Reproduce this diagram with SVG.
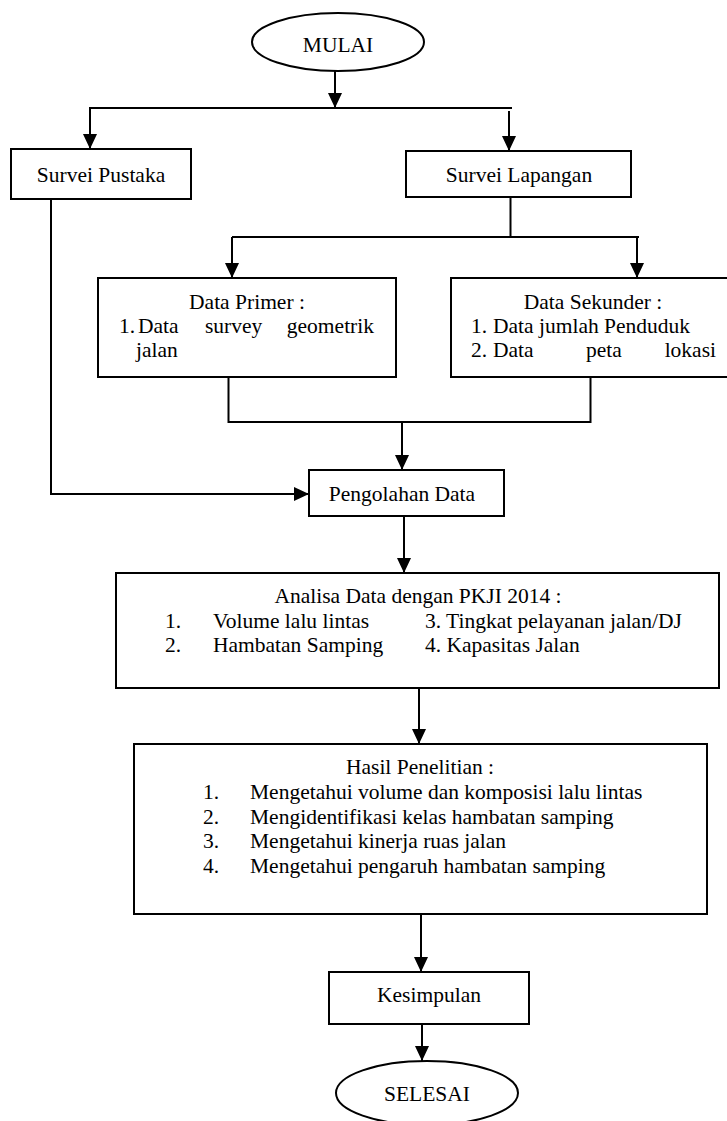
<svg xmlns="http://www.w3.org/2000/svg" width="727" height="1121" viewBox="0 0 727 1121">
<style>
.box{fill:#fff;stroke:#000;stroke-width:2}
.ln{fill:none;stroke:#000;stroke-width:2}
text{font-family:"Liberation Serif","Times New Roman",serif;font-size:21.5px;fill:#000}
.c{text-anchor:middle}
.e{text-anchor:end}
</style>
<defs>
<marker id="ah" markerUnits="userSpaceOnUse" markerWidth="16" markerHeight="16" viewBox="0 0 16 14" refX="15" refY="7" orient="auto">
<path d="M0,0 L15,7 L0,14 Z" fill="#000"/>
</marker>
</defs>
<rect width="727" height="1121" fill="#fff"/>
<g id="connectors">
<line class="ln" x1="335" y1="71" x2="335" y2="108" marker-end="url(#ah)"/>
<line class="ln" x1="89" y1="108" x2="512" y2="108"/>
<line class="ln" x1="90" y1="108" x2="90" y2="149" marker-end="url(#ah)"/>
<line class="ln" x1="509" y1="111" x2="509" y2="151" marker-end="url(#ah)"/>
<line class="ln" x1="510.5" y1="197" x2="510.5" y2="237"/>
<line class="ln" x1="232" y1="237" x2="639" y2="237"/>
<line class="ln" x1="232" y1="237" x2="232" y2="278" marker-end="url(#ah)"/>
<line class="ln" x1="637" y1="237" x2="637" y2="278" marker-end="url(#ah)"/>
<polyline class="ln" points="228.5,377 228.5,422 590.5,422 590.5,377"/>
<line class="ln" x1="402" y1="422" x2="402" y2="470" marker-end="url(#ah)"/>
<polyline class="ln" points="51,199 51,494 309,494" marker-end="url(#ah)"/>
<line class="ln" x1="404" y1="516" x2="404" y2="573" marker-end="url(#ah)"/>
<line class="ln" x1="419" y1="688" x2="419" y2="744" marker-end="url(#ah)"/>
<line class="ln" x1="421" y1="914" x2="421" y2="972" marker-end="url(#ah)"/>
<line class="ln" x1="422" y1="1024" x2="422" y2="1061" marker-end="url(#ah)"/>
</g>
<g id="mulai">
<ellipse class="box" cx="338" cy="42" rx="86" ry="29"/>
<text class="c" x="338" y="52">MULAI</text>
</g>
<g id="survei-pustaka">
<rect class="box" x="11" y="149" width="180" height="50"/>
<text class="c" x="101" y="182">Survei Pustaka</text>
</g>
<g id="survei-lapangan">
<rect class="box" x="406" y="151" width="225" height="46"/>
<text class="c" x="519" y="182">Survei Lapangan</text>
</g>
<g id="data-primer">
<rect class="box" x="98" y="278" width="298" height="99"/>
<text class="c" x="247" y="309">Data Primer :</text>
<text x="119" y="333">1.</text>
<text x="138" y="333">Data</text>
<text x="205" y="333">survey</text>
<text class="e" x="374" y="333">geometrik</text>
<text x="136" y="357">jalan</text>
</g>
<g id="data-sekunder">
<rect class="box" x="451" y="278" width="285" height="99"/>
<text class="c" x="593" y="309">Data Sekunder :</text>
<text x="471" y="333">1.</text>
<text x="493" y="333">Data jumlah Penduduk</text>
<text x="471" y="357">2.</text>
<text x="493" y="357">Data</text>
<text x="586" y="357">peta</text>
<text class="e" x="716" y="357">lokasi</text>
</g>
<g id="pengolahan-data">
<rect class="box" x="309" y="470" width="195" height="46"/>
<text class="c" x="402" y="501">Pengolahan Data</text>
</g>
<g id="analisa-data">
<rect class="box" x="116" y="573" width="603" height="115"/>
<text class="c" x="418" y="603">Analisa Data dengan PKJI 2014 :</text>
<text x="165" y="628">1.</text>
<text x="213" y="628">Volume lalu lintas</text>
<text x="425" y="628">3. Tingkat pelayanan jalan/DJ</text>
<text x="165" y="652">2.</text>
<text x="213" y="652">Hambatan Samping</text>
<text x="425" y="652">4. Kapasitas Jalan</text>
</g>
<g id="hasil-penelitian">
<rect class="box" x="134" y="744" width="573" height="170"/>
<text class="c" x="420" y="774">Hasil Penelitian :</text>
<text x="203" y="799">1.</text>
<text x="250" y="799">Mengetahui volume dan komposisi lalu lintas</text>
<text x="203" y="824">2.</text>
<text x="250" y="824">Mengidentifikasi kelas hambatan samping</text>
<text x="203" y="848">3.</text>
<text x="250" y="848">Mengetahui kinerja ruas jalan</text>
<text x="203" y="873">4.</text>
<text x="250" y="873">Mengetahui pengaruh hambatan samping</text>
</g>
<g id="kesimpulan">
<rect class="box" x="329" y="972" width="200" height="52"/>
<text class="c" x="429" y="1002">Kesimpulan</text>
</g>
<g id="selesai">
<ellipse class="box" cx="427" cy="1093" rx="91" ry="32"/>
<text class="c" x="427" y="1101">SELESAI</text>
</g>
</svg>
